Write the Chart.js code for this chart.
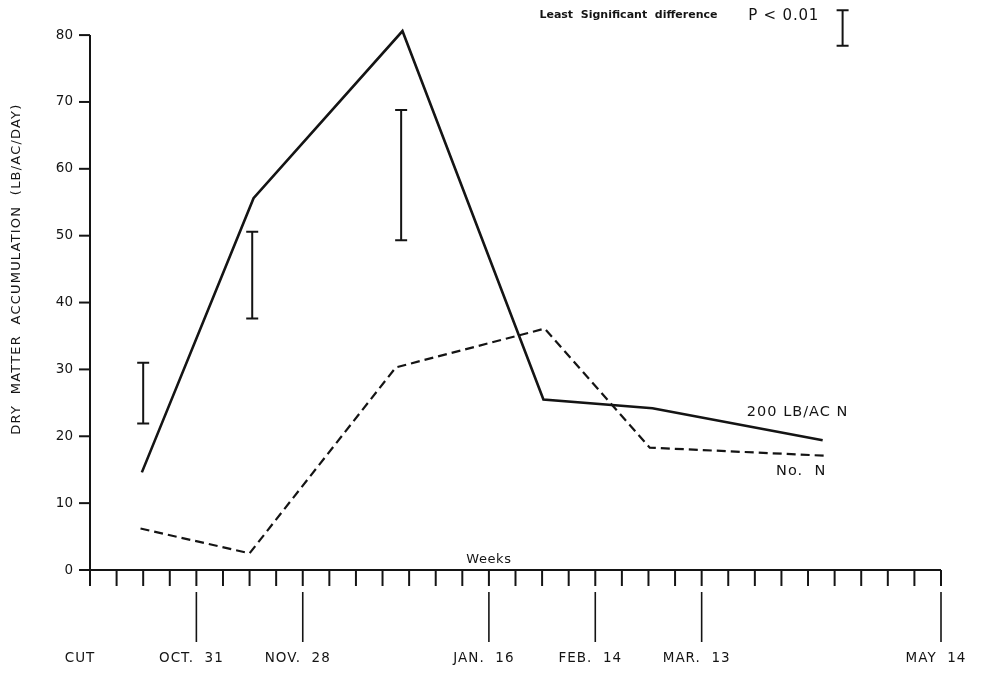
<!DOCTYPE html>
<html>
<head>
<meta charset="utf-8">
<script src="https://cdn.jsdelivr.net/npm/chart.js@4.4.1/dist/chart.umd.min.js"></script>
<style>
  html, body { margin: 0; padding: 0; background: #fff; }
  #wrap { width: 981px; height: 674px; position: relative; }
</style>
</head>
<body>
<div id="wrap"><canvas id="chart"></canvas></div>
<script>
// x values are weeks after the cut
const nitrogenWeeks = [1.95, 6.15, 11.75, 17.05, 21.15, 27.55];
const nitrogenValues = [14.6, 55.6, 80.6, 25.5, 24.2, 19.4];
const noNitrogenWeeks = [1.9, 6.0, 11.5, 17.1, 21.05, 27.6];
const noNitrogenValues = [6.2, 2.5, 30.3, 36.1, 18.3, 17.1];

// least significant difference bars (P < 0.01)
const lsdWeeks = [2.0, 6.1, 11.7];
const lsdLow = [21.9, 37.6, 49.3];
const lsdHigh = [31.0, 50.6, 68.8];
// the key bar next to the caption
const keyWeek = [28.3];
const keyLow = [78.4];
const keyHigh = [83.7];

const yTicks = [0, 10, 20, 30, 40, 50, 60, 70, 80];
const totalWeeks = 32;
const dateWeeks = [0, 4, 8, 15, 19, 23, 32];
const dateLabels = ['CUT', 'OCT.  31', 'NOV.  28', 'JAN.  16', 'FEB.  14', 'MAR.  13', 'MAY  14'];

const toPoints = (xs, ys) => xs.map((w, i) => ({ x: w, y: ys[i] }));

const ink = '#141414';
const font = '"DejaVu Sans", sans-serif';

const drawBar = (ctx, px, top, bottom) => {
  ctx.beginPath();
  ctx.moveTo(px, top); ctx.lineTo(px, bottom);
  ctx.moveTo(px - 6, top); ctx.lineTo(px + 6, top);
  ctx.moveTo(px - 6, bottom); ctx.lineTo(px + 6, bottom);
  ctx.stroke();
};

const setFont = (ctx, size, spacing, weight) => {
  ctx.font = (weight || '') + ' ' + size + 'px ' + font;
  ctx.letterSpacing = spacing + 'px';
};

const paperAxes = {
  id: 'paperAxes',
  afterDraw(chart) {
    const { ctx, scales: { x, y } } = chart;
    const x0 = x.getPixelForValue(0);
    const y0 = y.getPixelForValue(0);
    const xEnd = x.getPixelForValue(totalWeeks);
    ctx.save();
    ctx.strokeStyle = ink;
    ctx.fillStyle = ink;
    ctx.lineWidth = 2;
    ctx.lineCap = 'butt';

    // y axis with ticks on the left
    ctx.beginPath();
    ctx.moveTo(x0, y0 + 1);
    ctx.lineTo(x0, y.getPixelForValue(80));
    ctx.stroke();
    setFont(ctx, 13.5, 0);
    ctx.textAlign = 'right';
    ctx.textBaseline = 'middle';
    yTicks.forEach(v => {
      const py = y.getPixelForValue(v);
      ctx.beginPath();
      ctx.moveTo(x0 - 11, py);
      ctx.lineTo(x0, py);
      ctx.stroke();
      ctx.fillText(String(v), x0 - 17, py);
    });

    // x axis, weekly ticks and the long date ticks
    ctx.beginPath();
    ctx.moveTo(x0, y0);
    ctx.lineTo(xEnd, y0);
    ctx.stroke();
    for (let w = 0; w <= totalWeeks; w++) {
      const px = x.getPixelForValue(w);
      ctx.beginPath();
      ctx.moveTo(px, y0);
      ctx.lineTo(px, y0 + 16);
      ctx.stroke();
    }
    ctx.lineWidth = 1.6;
    setFont(ctx, 13.5, 1);
    ctx.textAlign = 'center';
    dateWeeks.forEach((w, i) => {
      const px = x.getPixelForValue(w);
      if (w > 0) {
        ctx.beginPath();
        ctx.moveTo(px, y0 + 22);
        ctx.lineTo(px, y0 + 72);
        ctx.stroke();
      }
      ctx.fillText(dateLabels[i], px - (w === 0 ? 10 : 5), y0 + 88);
    });
    setFont(ctx, 13, 0.6);
    ctx.fillText('Weeks', x.getPixelForValue(15), y0 - 10);

    // y axis title
    ctx.save();
    ctx.translate(17, y.getPixelForValue(45));
    ctx.rotate(-Math.PI / 2);
    setFont(ctx, 13, 1.2);
    ctx.fillText('DRY  MATTER  ACCUMULATION  (LB/AC/DAY)', 0, 0);
    ctx.restore();

    // LSD bars
    ctx.lineWidth = 2;
    lsdWeeks.forEach((w, i) => {
      drawBar(ctx, x.getPixelForValue(w), y.getPixelForValue(lsdHigh[i]), y.getPixelForValue(lsdLow[i]));
    });
    keyWeek.forEach((w, i) => {
      drawBar(ctx, x.getPixelForValue(w), y.getPixelForValue(keyHigh[i]), y.getPixelForValue(keyLow[i]));
    });

    // captions
    ctx.textAlign = 'left';
    setFont(ctx, 11, 0, '600');
    ctx.fillText('Least  Significant  difference', x.getPixelForValue(16.9), y.getPixelForValue(83.0));
    setFont(ctx, 15, 0.8);
    ctx.fillText('P < 0.01', x.getPixelForValue(24.75), y.getPixelForValue(82.9));
    setFont(ctx, 14.5, 1);
    ctx.fillText('200 LB/AC N', x.getPixelForValue(24.7), y.getPixelForValue(23.6));
    ctx.fillText('No.  N', x.getPixelForValue(25.8), y.getPixelForValue(14.8));
    ctx.restore();
  }
};

new Chart(document.getElementById('chart'), {
  type: 'line',
  data: {
    datasets: [
      {
        label: '200 LB/AC N',
        data: toPoints(nitrogenWeeks, nitrogenValues),
        borderColor: ink,
        borderWidth: 2.6,
        pointRadius: 0,
        tension: 0
      },
      {
        label: 'No. N',
        data: toPoints(noNitrogenWeeks, noNitrogenValues),
        borderColor: ink,
        borderWidth: 2.2,
        borderDash: [9, 5],
        pointRadius: 0,
        tension: 0
      }
    ]
  },
  options: {
    responsive: true,
    maintainAspectRatio: false,
    animation: false,
    layout: { padding: { left: 90, right: 40, top: 5, bottom: 104 } },
    plugins: { legend: { display: false }, tooltip: { enabled: false } },
    scales: {
      x: { type: 'linear', min: 0, max: totalWeeks, display: false },
      y: { type: 'linear', min: 0, max: 84.5, display: false }
    }
  },
  plugins: [paperAxes]
});
</script>
</body>
</html>
